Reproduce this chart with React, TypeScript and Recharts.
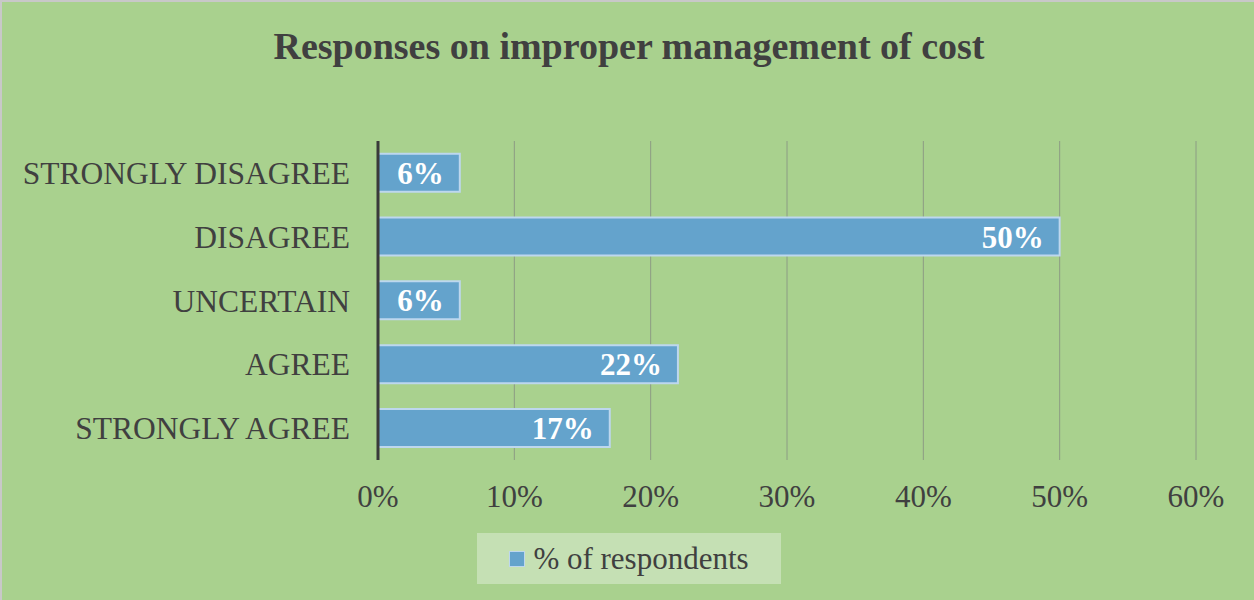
import React from 'react';
import { BarChart, Bar, XAxis, YAxis, CartesianGrid, Legend, LabelList } from 'recharts';

const categories = ['STRONGLY DISAGREE', 'DISAGREE', 'UNCERTAIN', 'AGREE', 'STRONGLY AGREE'];
const values = [6, 50, 6, 22, 17];
const xTicks = [0, 10, 20, 30, 40, 50, 60];
const seriesName = '% of respondents';

const data = categories.map((c, i) => ({ category: c, value: values[i] }));

const FONT = '"Liberation Serif", "Times New Roman", serif';
const TEXT = '#404040';

const LegendBox = () => (
  <div
    style={{
      width: 304,
      height: 51,
      background: '#c5e0b4',
      display: 'flex',
      alignItems: 'center',
      justifyContent: 'center',
      fontFamily: FONT,
      fontSize: 31,
      color: TEXT,
      boxSizing: 'border-box',
    }}
  >
    <span
      style={{
        display: 'inline-block',
        width: 14,
        height: 14,
        background: '#64a3cc',
        border: '1px solid #bdd7ee',
        marginRight: 8,
      }}
    />
    <span>{seriesName}</span>
  </div>
);

export default function App() {
  return (
    <div
      style={{
        position: 'absolute',
        left: 0,
        top: 0,
        width: 1254,
        height: 600,
        background: '#a9d18e',
        borderTop: '2px solid #c8c8c8',
        borderLeft: '2px solid #c8c8c8',
        boxSizing: 'border-box',
        overflow: 'hidden',
      }}
    >
      <div
        style={{
          position: 'absolute',
          left: 0,
          top: 22,
          width: 1254,
          textAlign: 'center',
          fontFamily: FONT,
          fontWeight: 'bold',
          fontSize: 38,
          color: TEXT,
          lineHeight: '44px',
        }}
      >
        Responses on improper management of cost
      </div>
      <div style={{ position: 'absolute', left: -2, top: -2 }}>
        <BarChart
          width={1254}
          height={600}
          data={data}
          layout="vertical"
          margin={{ top: 141, right: 58, left: 0, bottom: 29 }}
          barCategoryGap="20%"
        >
          <CartesianGrid horizontal={false} vertical={true} stroke="#8c9c84" strokeWidth={1} />
          <XAxis
            type="number"
            domain={[0, 60]}
            ticks={xTicks}
            tickFormatter={(v: number) => `${v}%`}
            axisLine={false}
            tickLine={false}
            tick={{ fontFamily: FONT, fontSize: 31, fill: TEXT }}
            tickMargin={19}
            height={60}
            interval={0}
          />
          <YAxis
            type="category"
            dataKey="category"
            width={378}
            axisLine={{ stroke: '#3a3a3a', strokeWidth: 3 }}
            tickLine={false}
            tick={{ fontFamily: FONT, fontSize: 31.5, fill: TEXT }}
            tickMargin={22}
            interval={0}
          />
          <Legend
            verticalAlign="bottom"
            content={() => <LegendBox />}
            wrapperStyle={{ position: 'absolute', left: 477, top: 533, width: 304, height: 51 }}
          />
          <Bar
            dataKey="value"
            name={seriesName}
            fill="#64a3cc"
            stroke="#bdd7ee"
            strokeWidth={2}
            isAnimationActive={false}
          >
            <LabelList
              dataKey="value"
              position="insideRight"
              offset={16}
              formatter={(v: any) => `${v}%`}
              style={{ fontFamily: FONT, fontSize: 31, fontWeight: 'bold', fill: '#ffffff' }}
            />
          </Bar>
        </BarChart>
      </div>
    </div>
  );
}
